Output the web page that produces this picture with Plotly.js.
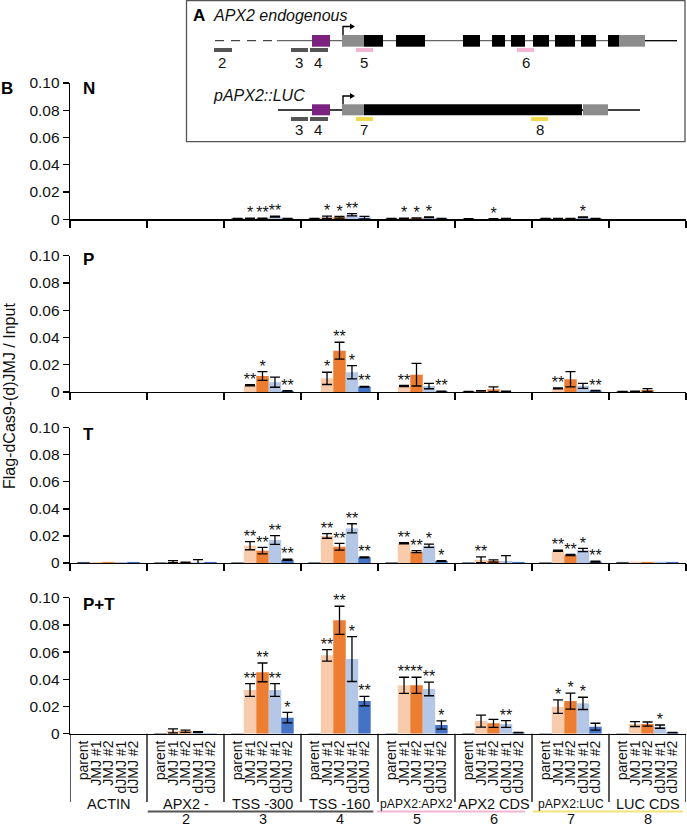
<!DOCTYPE html>
<html>
<head>
<meta charset="utf-8">
<script src="https://cdn.plot.ly/plotly-3.0.1.min.js"></script>
<style>html,body{margin:0;padding:0;background:#fff;}#chart{width:687px;height:828px;}</style>
</head>
<body>
<div id="chart"></div>
<script>
// ---------- DATA ----------
const categories = ["ACTIN", "APX2 -", "TSS -300", "TSS -160", "pAPX2:APX2", "APX2 CDS", "pAPX2:LUC", "LUC CDS"];
const regionNumbers = ["", "2", "3", "4", "5", "6", "7", "8"];
const genotypes = ["parent", "JMJ #1", "JMJ #2", "dJMJ #1", "dJMJ #2"];
const panelNames = ["N", "P", "T", "P+T"];
const yTickVals = [0, 0.02, 0.04, 0.06, 0.08, 0.10];
const yTickText = ["0", "0.02", "0.04", "0.06", "0.08", "0.10"];

// rows = genotypes (parent, JMJ #1, JMJ #2, dJMJ #1, dJMJ #2); columns = categories
const N_val = [
  [0, 0, 0.0005, 0.0005, 0.0005, 0.0003, 0.0005, 0],
  [0, 0, 0.0008, 0.0015, 0.0008, 0, 0.0006, 0],
  [0, 0, 0.0008, 0.0015, 0.0010, 0.0003, 0.0006, 0],
  [0, 0, 0.0020, 0.0033, 0.0015, 0.0006, 0.0015, 0],
  [0, 0, 0.0006, 0.0012, 0.0006, 0, 0.0005, 0]
];
const N_err = [
  [null, null, 0.0001, 0.0001, 0.0001, 0.0001, 0.0001, null],
  [null, null, 0.0001, 0.0008, 0.0001, null, 0.0001, null],
  [null, null, 0.0001, 0.0006, 0.0001, 0.0001, 0.0001, null],
  [null, null, 0.0003, 0.0008, 0.0002, 0.0001, 0.0002, null],
  [null, null, 0.0001, 0.0010, 0.0001, null, 0.0001, null]
];
const N_sig = [
  ["", "", "", "", "", "", "", ""],
  ["", "", "*", "*", "*", "", "", ""],
  ["", "", "**", "*", "*", "*", "", ""],
  ["", "", "**", "**", "*", "", "*", ""],
  ["", "", "", "", "", "", "", ""]
];

const P_val = [
  [0, 0, 0, 0, 0, 0.0004, 0, 0.0003],
  [0, 0, 0.0050, 0.0100, 0.0044, 0.0008, 0.0027, 0.0005],
  [0, 0, 0.0117, 0.0303, 0.0127, 0.0020, 0.0093, 0.0015],
  [0, 0, 0.0072, 0.0145, 0.0044, 0.0005, 0.0045, 0],
  [0, 0, 0.0008, 0.0039, 0.0005, 0, 0.0010, 0]
];
const P_err = [
  [null, null, null, null, null, 0.0001, null, 0.0001],
  [null, null, 0.0004, 0.0045, 0.0004, 0.0001, 0.0003, 0.0001],
  [null, null, 0.0032, 0.0062, 0.0083, 0.0018, 0.0056, 0.0010],
  [null, null, 0.0037, 0.0048, 0.0020, 0.0001, 0.0018, null],
  [null, null, 0.0001, 0.0003, 0.0001, null, 0.0002, null]
];
const P_sig = [
  ["", "", "", "", "", "", "", ""],
  ["", "", "**", "*", "**", "", "**", ""],
  ["", "", "*", "**", "", "", "", ""],
  ["", "", "", "*", "", "", "", ""],
  ["", "", "**", "**", "**", "", "**", ""]
];

const T_val = [
  [0.0008, 0.0005, 0.0005, 0.0005, 0.0005, 0.0005, 0.0005, 0.0008],
  [0.0008, 0.0010, 0.0128, 0.0200, 0.0146, 0.0024, 0.0091, 0.0010],
  [0.0008, 0.0005, 0.0091, 0.0120, 0.0084, 0.0015, 0.0059, 0.0008],
  [0.0008, 0.0005, 0.0170, 0.0256, 0.0128, 0.0015, 0.0096, 0.0010],
  [0.0008, 0.0008, 0.0024, 0.0042, 0.0015, 0.0008, 0.0010, 0.0008]
];
const T_err = [
  [null, null, null, null, null, null, null, null],
  [null, 0.0007, 0.0030, 0.0017, 0.0004, 0.0022, 0.0004, null],
  [null, 0.0001, 0.0024, 0.0025, 0.0008, 0.0008, 0.0004, null],
  [null, 0.0020, 0.0032, 0.0034, 0.0012, 0.0040, 0.0012, null],
  [null, null, 0.0005, 0.0004, 0.0003, null, 0.0003, null]
];
const T_sig = [
  ["", "", "", "", "", "", "", ""],
  ["", "", "**", "**", "**", "**", "**", ""],
  ["", "", "**", "**", "**", "", "**", ""],
  ["", "", "**", "**", "*", "", "*", ""],
  ["", "", "**", "**", "*", "", "**", ""]
];

const PT_val = [
  [0, 0.0005, 0.0003, 0.0003, 0.0003, 0.0005, 0.0003, 0.0003],
  [0, 0.0020, 0.0321, 0.0576, 0.0356, 0.0093, 0.0199, 0.0071],
  [0, 0.0018, 0.0451, 0.0834, 0.0356, 0.0076, 0.0240, 0.0071],
  [0, 0.0012, 0.0321, 0.0549, 0.0329, 0.0071, 0.0223, 0.0052],
  [0, 0.0003, 0.0118, 0.0240, 0.0064, 0.0008, 0.0052, 0.0008]
];
const PT_err = [
  [null, null, null, null, null, null, null, null],
  [null, 0.0015, 0.0047, 0.0042, 0.0059, 0.0044, 0.0049, 0.0018],
  [null, 0.0008, 0.0069, 0.0103, 0.0059, 0.0030, 0.0059, 0.0015],
  [null, 0.0003, 0.0047, 0.0165, 0.0050, 0.0025, 0.0045, 0.0012],
  [null, null, 0.0039, 0.0035, 0.0030, 0.0001, 0.0025, 0.0001]
];
const PT_sig = [
  ["", "", "", "", "", "", "", ""],
  ["", "", "**", "**", "**", "", "*", ""],
  ["", "", "**", "**", "**", "", "*", ""],
  ["", "", "**", "*", "**", "**", "*", "*"],
  ["", "", "*", "**", "*", "", "", ""]
];

// ---------- STYLE ----------
const colors = ["#44546a", "#f8cbad", "#ed7d31", "#b4c7e7", "#4472c4"];
const W = 687, H = 828;
const FONT = "Liberation Sans, Arial, sans-serif";
const px = x => x / W;
const py = y => 1 - y / H;
const BARGAP = 0.19;
const bw = (1 - BARGAP) / genotypes.length;
const xDomain = [px(70), px(686)];
const yDomains = [
  [py(219.3), py(83)],
  [py(392), py(255.7)],
  [py(563), py(427.7)],
  [py(733.7), py(597.7)]
];
const labelY = [88, 259, 434.5, 604];
const panels = [
  {val: N_val, err: N_err, sig: N_sig},
  {val: P_val, err: P_err, sig: P_sig},
  {val: T_val, err: T_err, sig: T_sig},
  {val: PT_val, err: PT_err, sig: PT_sig}
];
const catIdx = categories.map((c, i) => i);
const offset = j => (j - (genotypes.length - 1) / 2) * bw;

const traces = [];
const layout = {
  width: W, height: H,
  margin: {l: 0, r: 0, t: 0, b: 0},
  paper_bgcolor: "#fff", plot_bgcolor: "rgba(0,0,0,0)",
  showlegend: false, hovermode: false,
  barmode: "group", bargap: BARGAP, bargroupgap: 0,
  font: {family: FONT, color: "#111", size: 14},
  shapes: [], annotations: []
};

const boundaries = [];
for (let i = 0; i <= categories.length; i++) boundaries.push(i - 0.5);

panels.forEach((p, k) => {
  const xa = k === 0 ? "x" : "x" + (k + 1);
  const ya = k === 0 ? "y" : "y" + (k + 1);
  genotypes.forEach((g, j) => {
    traces.push({
      type: "bar", x: catIdx, y: p.val[j], name: g,
      xaxis: xa, yaxis: ya,
      marker: {color: colors[j], line: {width: 0}},
      error_y: {type: "data", array: p.err[j].map(e => e === null ? NaN : e),
        visible: true, color: "#000", thickness: 1.3, width: 5}
    });
  });
  genotypes.forEach((g, j) => {
    traces.push({
      type: "scatter", mode: "text", xaxis: xa, yaxis: ya,
      x: catIdx.map(i => i + offset(j)),
      y: p.val[j].map((v, i) => v + (p.err[j][i] || 0) + 0.0028),
      text: p.sig[j], textposition: "middle center",
      textfont: {family: FONT, size: 16, color: "#111"}, cliponaxis: false
    });
  });
  const last = k === panels.length - 1;
  layout["xaxis" + (k === 0 ? "" : k + 1)] = {
    domain: xDomain, anchor: ya, range: [-0.5, categories.length - 0.5],
    showgrid: false, zeroline: false, showline: true, linecolor: "#000", linewidth: 1.3,
    tickmode: "array",
    tickvals: last ? catIdx.flatMap(i => genotypes.map((g, j) => i + offset(j))) : boundaries,
    ticktext: last ? catIdx.flatMap(() => genotypes) : boundaries.map(() => ""),
    ticks: last ? "" : "outside", ticklen: 7, tickwidth: 1.3, tickcolor: "#000",
    tickangle: last ? -90 : 0, showticklabels: last,
    tickfont: {family: FONT, size: 14, color: "#111"}, fixedrange: true
  };
  layout["yaxis" + (k === 0 ? "" : k + 1)] = {
    domain: yDomains[k], anchor: xa, range: [0, 0.10],
    showgrid: false, zeroline: false, showline: true, linecolor: "#000", linewidth: 1.3,
    tickmode: "array", tickvals: yTickVals, ticktext: yTickText,
    ticks: "outside", ticklen: 6, tickwidth: 1.3, tickcolor: "#000",
    tickfont: {family: FONT, size: 15.5, color: "#111"}, fixedrange: true
  };
  layout.annotations.push({
    text: "<b>" + panelNames[k] + "</b>", xref: "paper", yref: "paper",
    x: px(81), y: py(labelY[k]), xanchor: "left", yanchor: "middle",
    showarrow: false, font: {family: FONT, size: 17, color: "#000"}
  });
});

// bottom separators, group labels, region lines & numbers
boundaries.forEach(b => layout.shapes.push({
  type: "line", xref: "x4", yref: "paper", x0: b, x1: b, y0: py(733.7), y1: py(802),
  line: {color: "#000", width: 1.3}
}));
categories.forEach((c, i) => layout.annotations.push({
  text: c, xref: "x4", yref: "paper", x: i, y: py(804), xanchor: "center", yanchor: "middle",
  showarrow: false, font: {family: FONT, size: c.length > 8 ? 12.2 : 14.5, color: "#111"}
}));
regionNumbers.forEach((n, i) => { if (n) layout.annotations.push({
  text: n, xref: "x4", yref: "paper", x: i, y: py(819), xanchor: "center", yanchor: "middle",
  showarrow: false, font: {family: FONT, size: 14.5, color: "#111"}
}); });
[[0.51, 3.44, "#555555"], [3.49, 5.41, "#f2b6d2"], [5.51, 7.46, "#f4e27a"]].forEach(s =>
  layout.shapes.push({type: "line", xref: "x4", yref: "paper", x0: s[0], x1: s[1],
    y0: py(811.5), y1: py(811.5), line: {color: s[2], width: 2}}));

// y axis title and panel B label
layout.annotations.push({
  text: "Flag-dCas9-(d)JMJ / Input", xref: "paper", yref: "paper",
  x: px(9), y: py(396), xanchor: "center", yanchor: "middle", textangle: -90, showarrow: false,
  font: {family: FONT, size: 16, color: "#111"}
});
layout.annotations.push({
  text: "<b>B</b>", xref: "paper", yref: "paper", x: px(-1), y: py(88),
  xanchor: "left", yanchor: "middle", showarrow: false,
  font: {family: FONT, size: 17, color: "#000"}
});

// ---------- Panel A schematic ----------
function rect(x0, y0, x1, y1, fill, line) {
  layout.shapes.push({type: "rect", xref: "paper", yref: "paper",
    x0: px(x0), x1: px(x1), y0: py(y0), y1: py(y1), fillcolor: fill,
    line: line || {width: 0}});
}
function hline(x0, x1, y, color, width, dash) {
  layout.shapes.push({type: "line", xref: "paper", yref: "paper",
    x0: px(x0), x1: px(x1), y0: py(y), y1: py(y), line: {color: color, width: width, dash: dash || "solid"}});
}
function label(t, x, y, size, opts) {
  layout.annotations.push(Object.assign({text: t, xref: "paper", yref: "paper",
    x: px(x), y: py(y), xanchor: "center", yanchor: "middle", showarrow: false,
    font: {family: FONT, size: size, color: "#111"}}, opts || {}));
}
function tss(x, yBase, yTop) {
  layout.shapes.push({type: "path", xref: "paper", yref: "paper",
    path: `M${px(x)},${py(yBase)} L${px(x)},${py(yTop)} L${px(x + 8)},${py(yTop)}`,
    line: {color: "#000", width: 1.4}});
  layout.shapes.push({type: "path", xref: "paper", yref: "paper",
    path: `M${px(x + 7)},${py(yTop - 3)} L${px(x + 12)},${py(yTop)} L${px(x + 7)},${py(yTop + 3)} Z`,
    fillcolor: "#000", line: {width: 0}});
}
rect(186.5, 0.5, 685, 141.7, "#fff", {color: "#555", width: 1.3});
label("<b>A</b>", 191, 15.5, 17, {xanchor: "left", font: {family: FONT, size: 17, color: "#000"}});
label("<i>APX2 endogenous</i>", 211, 15.5, 16, {xanchor: "left"});
label("<i>pAPX2::LUC</i>", 211, 96, 16, {xanchor: "left"});
// endogenous gene
hline(215, 277, 40.7, "#444", 1.3, "9px,7px");
hline(277, 645, 40.7, "#666", 1.3);
hline(645, 677, 40.7, "#000", 1.3);
rect(312, 35, 330, 46.7, "#7b2180");
rect(342, 35, 364, 46.7, "#8c8c8c");
[[364, 383], [396, 425], [463, 480], [492, 505], [511, 525], [533, 549], [555, 575], [581, 596], [608, 619]]
  .forEach(e => rect(e[0], 35, e[1], 46.7, "#000"));
rect(619, 35, 645, 46.7, "#8c8c8c");
tss(343, 35, 26.5);
[[214, 232, "#555"], [291, 308, "#555"], [310, 328, "#555"], [356, 373, "#f2b6d2"], [517, 534, "#f2b6d2"]]
  .forEach(b => rect(b[0], 48, b[1], 52, b[2]));
[["2", 222], ["3", 299], ["4", 318], ["5", 364], ["6", 526]].forEach(n => label(n[0], n[1], 62, 15));
// reporter construct
hline(278, 640, 110, "#000", 1.3);
rect(312, 104.3, 330, 115.3, "#7b2180");
rect(342, 104.3, 364, 115.3, "#8c8c8c");
rect(364, 104.3, 582, 115.3, "#000");
rect(583, 104.3, 608, 115.3, "#8c8c8c");
tss(343, 104.3, 96);
[[291, 308, "#555"], [310, 328, "#555"], [356, 373, "#f4d94a"], [531, 548, "#f4d94a"]]
  .forEach(b => rect(b[0], 117, b[1], 121, b[2]));
[["3", 299], ["4", 318], ["7", 364], ["8", 540]].forEach(n => label(n[0], n[1], 129, 15));

Plotly.newPlot("chart", traces, layout, {staticPlot: true, displayModeBar: false});
</script>
</body>
</html>
